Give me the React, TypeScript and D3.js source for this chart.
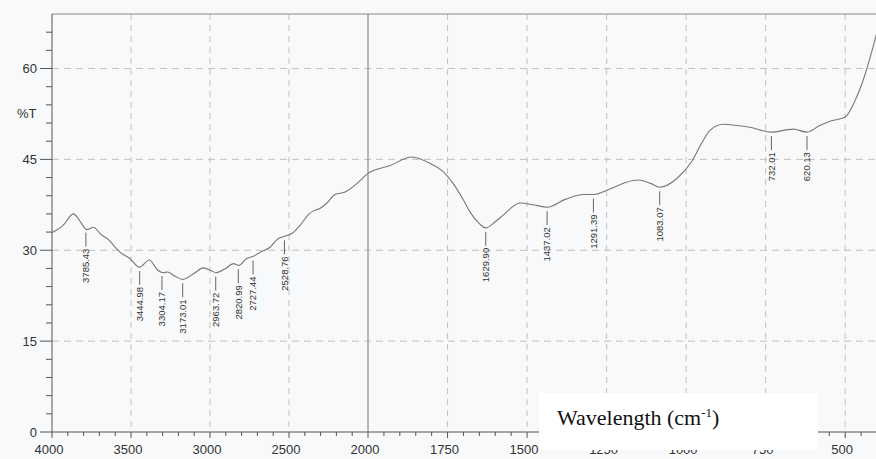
import React from "react";
import * as d3 from "d3";

// spectrum trace (wavenumber cm-1, %T)
const wavenumbers = [
  4000, 3930, 3865, 3820, 3780, 3738, 3690, 3644, 3600, 3570, 3506, 3447, 3384,
  3330, 3295, 3270, 3220, 3173, 3100, 3042, 2990, 2963, 2900, 2852, 2818, 2770,
  2726, 2680, 2620, 2570, 2528, 2480, 2430, 2380, 2346, 2304, 2260, 2209, 2145,
  2071, 2000, 1930, 1863, 1800, 1768, 1732, 1700, 1679, 1650, 1630, 1600, 1575,
  1522, 1480, 1437, 1380, 1323, 1291, 1240, 1190, 1150, 1110, 1083, 1030, 983,
  950, 925, 883, 840, 800, 732, 663, 620, 580, 548, 500, 469, 437, 400,
];
const transmittance = [
  32.9, 34.1, 36.0, 34.7, 33.4, 33.8, 32.6, 31.8, 30.5, 29.7, 28.6, 27.2, 28.4,
  26.7, 26.3, 26.4, 25.7, 25.2, 26.2, 27.1, 26.6, 26.3, 27.0, 27.8, 27.5, 28.6,
  29.0, 29.7, 30.5, 31.9, 32.3, 32.8, 34.1, 35.8, 36.5, 36.9, 37.8, 39.2, 39.6,
  41.0, 42.7, 44.0, 45.4, 44.2, 43.2, 41.0, 38.3, 36.3, 34.4, 33.7, 34.7, 35.8,
  37.8, 37.5, 37.1, 38.4, 39.2, 39.2, 40.1, 41.2, 41.6, 41.0, 40.4, 41.8, 44.6,
  47.8, 49.8, 50.8, 50.6, 50.3, 49.5, 50.0, 49.5, 50.6, 51.3, 52.0, 54.7, 59.1,
  66.0,
];

const peakLabels = [
  "3785.43", "3444.98", "3304.17", "3173.01", "2963.72", "2820.99", "2727.44",
  "2528.76", "1629.90", "1437.02", "1291.39", "1083.07", "732.01", "620.13",
];

const xMajor = [4000, 3500, 3000, 2500, 2000, 1750, 1500, 1250, 1000, 750, 500];
const yMajor = [0, 15, 30, 45, 60];

const W = 876;
const H = 459;

export default function App() {
  // two-scale wavenumber axis, like the spectrometer print-out
  const x = d3.scaleLinear().domain([4000, 2000, 400]).range([52, 368, 877]);
  const y = d3.scaleLinear().domain([0, 69]).range([432, 14]);

  const pts = wavenumbers.map((w, i) => [w, transmittance[i]] as [number, number]);
  const line = d3
    .line<[number, number]>()
    .x((d) => x(d[0]))
    .y((d) => y(d[1]))
    .curve(d3.curveMonotoneX);

  // %T of the trace at a given wavenumber (linear between read points)
  const tAt = (w: number) => {
    const i = pts.findIndex((p) => p[0] <= w);
    if (i <= 0) return pts[0][1];
    const a = pts[i - 1], b = pts[i];
    return a[1] + ((w - a[0]) / (b[0] - a[0])) * (b[1] - a[1]);
  };

  const xMinor = [
    ...d3.range(4000, 2000, -100),
    ...d3.range(2000, 400, -50),
  ].filter((v) => !xMajor.includes(v));
  const yMinor = d3.range(0, 69, 3).filter((v) => !yMajor.includes(v));

  const axisColor = "#555";
  const gridColor = "#bbb";
  const font = "'Liberation Sans', Arial, sans-serif";

  return (
    <div style={{ position: "fixed", left: 0, top: 0 }}>
      <svg width={W} height={H} style={{ display: "block" }}>
        <rect width={W} height={H} fill="#f7f9fa" />

        {/* grid */}
        {xMajor
          .filter((v) => v !== 4000 && v !== 2000)
          .map((v) => (
            <line key={"gx" + v} x1={x(v)} x2={x(v)} y1={14} y2={432}
              stroke={gridColor} strokeDasharray="6,5" strokeWidth={0.9} />
          ))}
        {yMajor
          .filter((v) => v !== 0)
          .map((v) => (
            <line key={"gy" + v} x1={52} x2={W} y1={y(v)} y2={y(v)}
              stroke={gridColor} strokeDasharray="7,5" strokeWidth={0.9} />
          ))}
        <line x1={x(2000)} x2={x(2000)} y1={14} y2={432} stroke="#777" strokeWidth={1} />
        <line x1={52} x2={W} y1={14} y2={14} stroke="#888" strokeWidth={1} />

        {/* y axis */}
        <line x1={52} x2={52} y1={14} y2={432} stroke={axisColor} strokeWidth={1} />
        {yMinor.map((v) => (
          <line key={"ym" + v} x1={46} x2={52} y1={y(v)} y2={y(v)} stroke={axisColor} />
        ))}
        {yMajor.map((v) => (
          <g key={"yM" + v}>
            <line x1={40} x2={52} y1={y(v)} y2={y(v)} stroke={axisColor} />
            <text x={37} y={y(v)} dy="0.35em" textAnchor="end" fontSize={13}
              fontFamily={font} fill="#333">{v}</text>
          </g>
        ))}
        <text x={17} y={113} dy="0.35em" fontSize={13} fontFamily={font} fill="#333">%T</text>

        {/* x axis */}
        <line x1={52} x2={W} y1={432} y2={432} stroke={axisColor} strokeWidth={1} />
        {xMinor.map((v) => (
          <line key={"xm" + v} x1={x(v)} x2={x(v)} y1={432} y2={436} stroke={axisColor} />
        ))}
        {xMajor.map((v) => (
          <g key={"xM" + v}>
            <line x1={x(v)} x2={x(v)} y1={432} y2={438} stroke={axisColor} />
            <text x={x(v) - 3} y={454} textAnchor="middle" fontSize={13}
              fontFamily={font} fill="#333">{v}</text>
          </g>
        ))}

        {/* spectrum */}
        <path d={line(pts) ?? ""} fill="none" stroke="#777" strokeWidth={1.1} />

        {/* peak markers */}
        {peakLabels.map((s) => {
          const w = +s;
          const px = x(w);
          const top = y(tAt(w)) + 4;
          return (
            <g key={"pk" + s}>
              <line x1={px} x2={px} y1={top} y2={top + 14} stroke="#555" strokeWidth={0.9} />
              <text transform={`translate(${px},${top + 16}) rotate(-90)`} dy="0.35em"
                textAnchor="end" fontSize={9.5} fontFamily={font} fill="#333">{s}</text>
            </g>
          );
        })}

        {/* axis title box pasted over the print-out */}
        <rect x={539} y={393} width={279} height={57} fill="#fff" />
        <text x={557} y={425} fontSize={22} fontFamily="'Liberation Serif', 'Times New Roman', serif" fill="#111">
          Wavelength (cm
          <tspan dy={-8} fontSize={13}>-1</tspan>
          <tspan dy={8}>)</tspan>
        </text>
      </svg>
    </div>
  );
}
